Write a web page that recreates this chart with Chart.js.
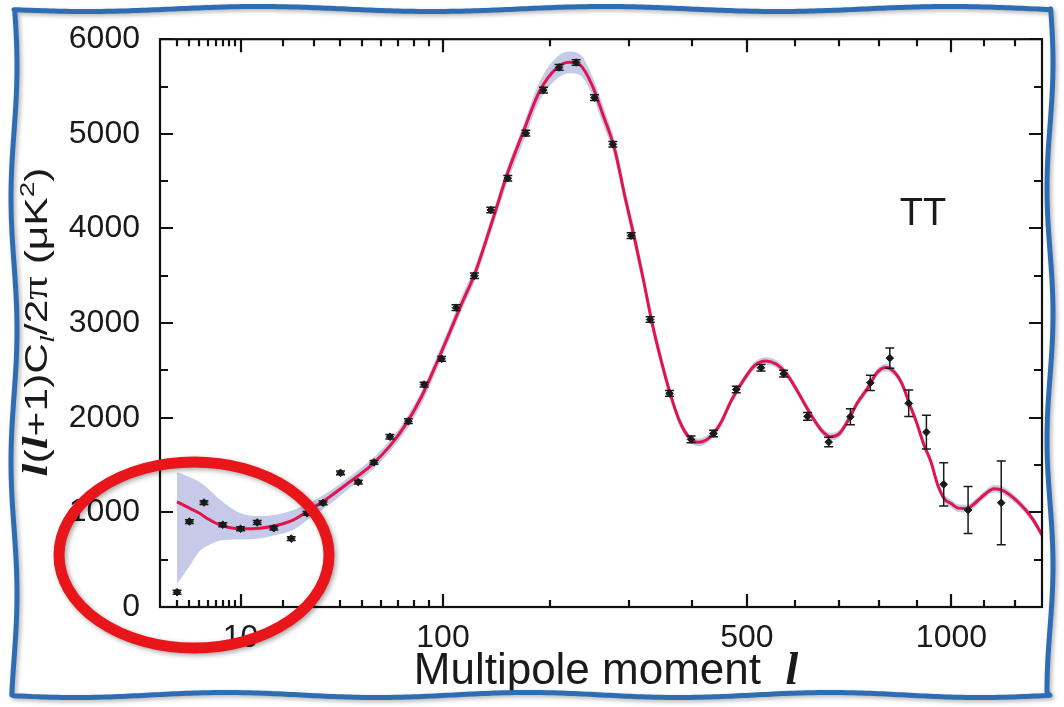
<!DOCTYPE html>
<html>
<head>
<meta charset="utf-8">
<script src="https://cdn.jsdelivr.net/npm/chart.js@4.4.1/dist/chart.umd.min.js"></script>
<style>
  html, body { margin: 0; padding: 0; background: #fff; }
  #wrap { width: 1064px; height: 707px; }
</style>
</head>
<body>
<div id="wrap"><canvas id="cmb" width="1064" height="707"></canvas></div>
<script>
// multipole axis is drawn on an l^0.4 stretch
const X_POWER = 0.4;
const X_MIN = 1;
const X_MAX = 1290;
const X_MAJOR = [10, 100, 500, 1000];
const X_MINOR = [2, 3, 4, 5, 6, 7, 8, 9, 20, 30, 40, 50, 60, 70, 80, 90,
  200, 300, 400, 600, 700, 800, 900, 1100, 1200];
const Y_MAJOR = [0, 1000, 2000, 3000, 4000, 5000, 6000];
const Y_MINOR = [500, 1500, 2500, 3500, 4500, 5500];

// measured band powers
const PTS_L = [2, 3, 4.5, 7, 10, 13.4, 17.4, 22.3, 27.4, 33.2, 40.3, 48.4, 56.3, 65.1,
  76.2, 86.5, 99, 110, 125, 139.4, 155.3, 173.4, 192.2, 209.9, 230.2, 253.3, 277.9,
  303.7, 332, 362.4, 398, 437.4, 479.5, 528, 574.9, 627, 675.3, 727.2, 777, 827.5,
  878.3, 927.6, 977.3, 1050, 1154];
const PTS_V = [156, 903, 1104, 869, 827, 893, 833, 723, 990, 1101, 1417, 1320, 1528, 1799,
  1963, 2351, 2622, 3163, 3500, 4195, 4531, 5007, 5462, 5702, 5754, 5382, 4890,
  3924, 3038, 2257, 1771, 1833, 2299, 2528, 2466, 2014, 1743, 2010, 2369, 2630,
  2153, 1848, 1296, 1025, 1101];
const PTS_ERR = [20, 20, 20, 20, 20, 20, 20, 20, 20, 20, 20, 20, 20, 25,
  25, 25, 25, 30, 30, 30, 30, 30, 30, 30, 30, 30, 30,
  30, 30, 30, 35, 35, 35, 35, 35, 40, 50, 85, 80, 107,
  139, 179, 229, 248, 443];

// best-fit model and its cosmic-variance band
const CURVE_L = [2, 3, 4, 5, 6.5, 8, 10, 14, 18, 23, 28, 35, 44, 55, 65, 75, 85, 95, 105,
  115, 125, 140, 155, 170, 188, 207, 222, 235, 250, 265, 280, 295, 310, 322, 335,
  350, 365, 380, 395, 410, 430, 450, 470, 495, 515, 538, 560, 580, 600, 620, 640,
  660, 680, 700, 720, 745, 770, 795, 818, 840, 860, 880, 900, 920, 940, 960, 980,
  1000, 1020, 1045, 1075, 1105, 1131, 1160, 1195, 1230, 1260, 1290];
const CURVE_V = [1111, 1045, 990, 930, 869, 840, 827, 833, 861, 921, 1020, 1150, 1315, 1500,
  1700, 1940, 2230, 2565, 2900, 3220, 3510, 4050, 4580, 5000, 5450, 5695, 5757, 5729,
  5520, 5190, 4850, 4330, 3850, 3450, 3000, 2580, 2220, 1945, 1790, 1740, 1790, 1940,
  2180, 2410, 2550, 2600, 2565, 2470, 2320, 2150, 1990, 1860, 1800, 1830, 1960, 2160,
  2310, 2480, 2530, 2480, 2360, 2150, 1950, 1720, 1540, 1290, 1140, 1090, 1045, 1040,
  1110, 1200, 1250, 1230, 1150, 1040, 920, 760];
const BAND_HI = [1424, 1375, 1320, 1250, 1140, 1060, 990, 960, 975, 1025, 1100, 1210, 1370,
  1560, 1760, 2000, 2290, 2630, 2970, 3300, 3580, 4120, 4650, 5070, 5550, 5810, 5870,
  5840, 5620, 5290, 4940, 4420, 3940, 3530, 3070, 2650, 2280, 1990, 1830, 1780, 1830,
  1980, 2220, 2450, 2590, 2640, 2605, 2510, 2360, 2190, 2030, 1900, 1840, 1870, 2000,
  2200, 2350, 2520, 2570, 2520, 2400, 2190, 1990, 1760, 1580, 1330, 1180, 1130, 1085,
  1080, 1150, 1240, 1290, 1270, 1190, 1080, 960, 800];
const BAND_LO = [243, 430, 590, 650, 700, 710, 712, 725, 760, 817, 930, 1070, 1250, 1440,
  1640, 1870, 2150, 2490, 2830, 3150, 3430, 3970, 4490, 4890, 5350, 5580, 5640, 5620,
  5420, 5090, 4760, 4240, 3760, 3370, 2930, 2510, 2160, 1900, 1750, 1700, 1750, 1900,
  2140, 2370, 2510, 2560, 2525, 2430, 2280, 2110, 1950, 1820, 1760, 1790, 1920, 2120,
  2270, 2440, 2490, 2440, 2320, 2110, 1910, 1680, 1500, 1250, 1100, 1050, 1005, 1000,
  1070, 1160, 1210, 1190, 1110, 1000, 880, 720];

const SANS = '"Liberation Sans", Arial, Helvetica, sans-serif';
const SERIF = '"Liberation Serif", "Times New Roman", serif';

class PowScale extends Chart.LinearScale {
  static id = 'pow';
  static defaults = {};

  buildTicks() {
    return X_MAJOR.map(v => ({ value: v }));
  }

  configure() {
    super.configure();
    this._p0 = Math.pow(this.min, X_POWER);
    this._p1 = Math.pow(this.max, X_POWER);
  }

  getPixelForValue(value) {
    const t = (Math.pow(value, X_POWER) - this._p0) / (this._p1 - this._p0);
    return this.getPixelForDecimal(t);
  }

  getValueForPixel(pixel) {
    const d = this.getDecimalForPixel(pixel);
    return Math.pow(this._p0 + d * (this._p1 - this._p0), 1 / X_POWER);
  }
}
Chart.register(PowScale);

function toXY(xs, ys) {
  return xs.map((x, i) => ({ x: x, y: ys[i] }));
}

const framePlugin = {
  id: 'frame',
  afterDatasetsDraw(chart) {
    const { ctx, chartArea: a, scales: { x, y } } = chart;
    ctx.save();

    // error bars on the measured points
    ctx.strokeStyle = '#1a1a1a';
    ctx.lineWidth = 1.5;
    ctx.beginPath();
    PTS_L.forEach((l, i) => {
      const px = x.getPixelForValue(l);
      const top = y.getPixelForValue(PTS_V[i] + PTS_ERR[i]);
      const bot = y.getPixelForValue(PTS_V[i] - PTS_ERR[i]);
      ctx.moveTo(px, top); ctx.lineTo(px, bot);
      ctx.moveTo(px - 4.5, top); ctx.lineTo(px + 4.5, top);
      ctx.moveTo(px - 4.5, bot); ctx.lineTo(px + 4.5, bot);
    });
    ctx.stroke();

    // box and inward ticks on all four sides
    ctx.strokeStyle = '#111';
    ctx.lineWidth = 2.2;
    ctx.strokeRect(a.left, a.top, a.right - a.left, a.bottom - a.top);
    ctx.beginPath();
    const xt = (vals, len) => vals.forEach(v => {
      const px = Math.round(x.getPixelForValue(v));
      ctx.moveTo(px, a.bottom); ctx.lineTo(px, a.bottom - len);
      ctx.moveTo(px, a.top); ctx.lineTo(px, a.top + len);
    });
    const yt = (vals, len) => vals.forEach(v => {
      const py = Math.round(y.getPixelForValue(v));
      ctx.moveTo(a.left, py); ctx.lineTo(a.left + len, py);
      ctx.moveTo(a.right, py); ctx.lineTo(a.right - len, py);
    });
    xt(X_MAJOR, 13); xt(X_MINOR, 7);
    yt(Y_MAJOR, 13); yt(Y_MINOR, 8);
    ctx.stroke();
    ctx.restore();
  }
};

const notesPlugin = {
  id: 'notes',
  afterDraw(chart) {
    const ctx = chart.ctx;
    ctx.save();
    ctx.fillStyle = '#1a1a1a';

    // panel tag
    ctx.font = '38px ' + SANS;
    ctx.textAlign = 'center';
    ctx.textBaseline = 'alphabetic';
    ctx.fillText('TT', 923, 225);

    // x axis title
    const xParts = [
      { t: 'Multipole moment  ', f: '44px ' + SANS },
      { t: 'l', f: 'italic bold 46px ' + SERIF }
    ];
    drawRun(ctx, xParts, 606, 684);

    // y axis title, rotated and a little stretched along its length
    ctx.translate(47, 322);
    ctx.rotate(-Math.PI / 2);
    ctx.scale(1.33, 1);
    const big = '32px ' + SANS;
    const yParts = [
      { t: 'l', f: 'italic bold 35px ' + SERIF },
      { t: '(', f: big },
      { t: 'l', f: 'italic bold 35px ' + SERIF },
      { t: '+1)C', f: big },
      { t: 'l', f: 'italic 21px ' + SERIF, dy: 7 },
      { t: '/2', f: big },
      { t: 'π', f: '35px ' + SERIF },
      { t: ' (μK', f: big },
      { t: '2', f: '21px ' + SANS, dy: -13 },
      { t: ')', f: big }
    ];
    drawRun(ctx, yParts, 0, 0);
    ctx.restore();

    // hand-drawn red ellipse around the low multipoles
    ctx.save();
    ctx.strokeStyle = '#e8161b';
    ctx.lineWidth = 11;
    ctx.shadowColor = 'rgba(0,0,0,0.35)';
    ctx.shadowBlur = 5;
    ctx.shadowOffsetX = 2;
    ctx.shadowOffsetY = 2;
    ctx.beginPath();
    ctx.ellipse(194, 555, 135, 93, 0, 0, Math.PI * 2);
    ctx.stroke();
    ctx.restore();

    // wavy blue frame
    ctx.save();
    ctx.strokeStyle = '#2f6db3';
    ctx.lineWidth = 5;
    ctx.lineJoin = 'round';
    ctx.shadowColor = 'rgba(0,0,0,0.3)';
    ctx.shadowBlur = 4;
    ctx.shadowOffsetX = 2;
    ctx.shadowOffsetY = 2;
    ctx.beginPath();
    const L = 14, R = 1050, T = 9, B = 695;
    for (let xx = L; xx <= R; xx += 4) ctx.lineTo(xx, T + 2.5 * Math.sin(xx / 55));
    for (let yy = T; yy <= B; yy += 4) ctx.lineTo(R + 3 * Math.sin(yy / 40), yy);
    for (let xx = R; xx >= L; xx -= 4) ctx.lineTo(xx, B + 2.5 * Math.sin(xx / 48));
    for (let yy = B; yy >= T; yy -= 4) ctx.lineTo(L + 3 * Math.sin(yy / 42), yy);
    ctx.closePath();
    ctx.stroke();
    ctx.restore();
  }
};

function drawRun(ctx, parts, cx, baseY) {
  let total = 0;
  parts.forEach(p => { ctx.font = p.f; p.w = ctx.measureText(p.t).width; total += p.w; });
  let xx = cx - total / 2;
  ctx.textAlign = 'left';
  ctx.textBaseline = 'alphabetic';
  parts.forEach(p => {
    ctx.font = p.f;
    ctx.fillText(p.t, xx, baseY + (p.dy || 0));
    xx += p.w;
  });
}

new Chart(document.getElementById('cmb'), {
  type: 'scatter',
  data: {
    datasets: [
      {
        label: 'data',
        data: toXY(PTS_L, PTS_V),
        pointStyle: 'rectRot',
        pointRadius: 3.8,
        backgroundColor: '#1a1a1a',
        borderColor: '#1a1a1a',
        borderWidth: 1
      },
      {
        label: 'model',
        data: toXY(CURVE_L, CURVE_V),
        showLine: true,
        borderColor: '#e3144b',
        borderWidth: 3,
        pointRadius: 0,
        cubicInterpolationMode: 'monotone'
      },
      {
        label: 'band upper',
        data: toXY(CURVE_L, BAND_HI),
        showLine: true,
        borderWidth: 0,
        borderColor: 'rgba(0,0,0,0)',
        backgroundColor: 'rgba(178,184,226,0.75)',
        pointRadius: 0,
        fill: '+1',
        cubicInterpolationMode: 'monotone'
      },
      {
        label: 'band lower',
        data: toXY(CURVE_L, BAND_LO),
        showLine: true,
        borderWidth: 0,
        borderColor: 'rgba(0,0,0,0)',
        pointRadius: 0,
        fill: false,
        cubicInterpolationMode: 'monotone'
      }
    ]
  },
  options: {
    responsive: false,
    animation: false,
    events: [],
    layout: { padding: { left: 0, top: 31, right: 22, bottom: 0 } },
    scales: {
      x: {
        type: 'pow',
        min: X_MIN,
        max: X_MAX,
        grid: { display: false, drawTicks: false },
        border: { display: false },
        ticks: {
          autoSkip: false,
          maxRotation: 0,
          padding: 12,
          color: '#1a1a1a',
          font: { family: SANS, size: 32 },
          callback: v => String(v)
        },
        afterFit(scale) { scale.height = 100; }
      },
      y: {
        min: 0,
        max: 6000,
        grid: { display: false, drawTicks: false },
        border: { display: false },
        ticks: {
          stepSize: 1000,
          padding: 20,
          color: '#1a1a1a',
          font: { family: SANS, size: 32 },
          callback: v => String(v)
        },
        afterFit(scale) { scale.width = 160; }
      }
    },
    plugins: {
      legend: { display: false },
      tooltip: { enabled: false }
    }
  },
  plugins: [framePlugin, notesPlugin]
});
</script>
</body>
</html>
